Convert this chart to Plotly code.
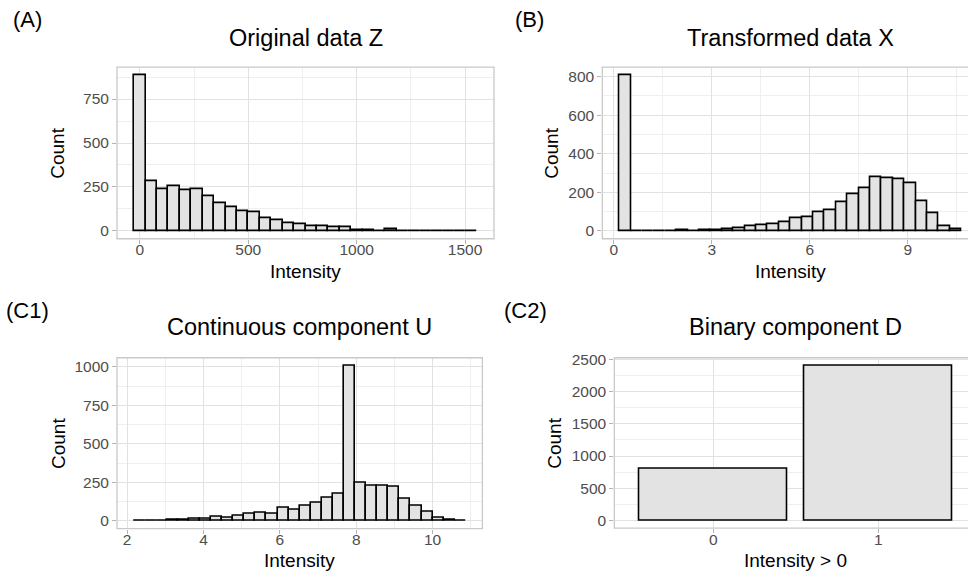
import numpy as np
import plotly.graph_objects as go

# ---- data -------------------------------------------------------------
# (A) original intensities Z: 30 bins, first bin centred on 0
z_bin_width = 52.7
z_counts = [887, 281, 235, 253, 230, 236, 199, 160, 138, 111,
            109, 75, 61, 47, 39, 30, 28, 19, 19, 2,
            6, 1, 8, 1, 1, 0, 1, 0, 0, 1]

# (B) transformed intensities X
x_bin_first = 0.349
x_bin_width = 0.349
x_counts = [808, 0, 0, 0, 0, 2, 0, 2, 4, 10,
            15, 24, 28, 37, 46, 64, 73, 95, 108, 147,
            188, 224, 278, 275, 266, 247, 153, 93, 25, 10]

# (C1) continuous component U
u_bin_first = 2.315
u_bin_width = 0.29
u_counts = [1, 1, 2, 6, 10, 13, 15, 25, 21, 32,
            46, 55, 46, 87, 74, 95, 120, 148, 175, 1008,
            247, 226, 230, 222, 146, 101, 61, 21, 10, 4]

# (C2) binary component D
d_levels = [0, 1]
d_labels = ["0", "1"]
d_counts = [800, 2405]

# tick values
z_ticks = [0, 500, 1000, 1500]
x_ticks = [0, 3, 6, 9]
u_ticks = [2, 4, 6, 8, 10]
yA_ticks = [0, 250, 500, 750]
yB_ticks = [0, 200, 400, 600, 800]
yC1_ticks = [0, 250, 500, 750, 1000]
yC2_ticks = [0, 500, 1000, 1500, 2000, 2500]

W, H = 968, 577
FONT = "Liberation Sans, Arial, sans-serif"
FILL = "#E3E3E3"
GRID = "#E2E2E2"
GRID_MINOR = "#EFEFEF"
BORDER = "#C9C9C9"
TICKTXT = "#4D4D4D"


def centers(first, width, n):
    return first + width * np.arange(n)


zc = centers(0.0, z_bin_width, len(z_counts))
xc = centers(x_bin_first, x_bin_width, len(x_counts))
uc = centers(u_bin_first, u_bin_width, len(u_counts))


def padded(lo, hi, frac=0.05):
    span = hi - lo
    return [lo - frac * span, hi + frac * span]


# panel boxes in pixels: left, right, top, bottom
boxA = (117.0, 494.0, 61.0, 235.0)
boxB = (602.3, 978.6, 61.0, 235.0)
boxC1 = (117.0, 482.4, 355.7, 529.0)
boxC2 = (614.3, 977.3, 355.7, 528.5)

fig = go.Figure()

bar_line = dict(color="black", width=1.6)
fig.add_trace(go.Bar(x=zc, y=z_counts, width=z_bin_width, marker=dict(color=FILL, line=bar_line),
                     xaxis="x", yaxis="y"))
fig.add_trace(go.Bar(x=xc, y=x_counts, width=x_bin_width, marker=dict(color=FILL, line=bar_line),
                     xaxis="x2", yaxis="y2"))
fig.add_trace(go.Bar(x=uc, y=u_counts, width=u_bin_width, marker=dict(color=FILL, line=bar_line),
                     xaxis="x3", yaxis="y3"))
fig.add_trace(go.Bar(x=d_levels, y=d_counts, width=0.9, marker=dict(color=FILL, line=bar_line),
                     xaxis="x4", yaxis="y4"))

TICKFONT = dict(family=FONT, size=15.5, color=TICKTXT)


def xaxis_for(box, rng, ticks, ticktext=None, minor=True):
    l, r, t, b = box
    full = rng[1] - rng[0]
    right_px = min(r, W)
    shown = [rng[0], rng[0] + full * (right_px - l) / (r - l)]
    ax = dict(domain=[l / W, right_px / W], range=shown, tickvals=ticks,
              ticktext=ticktext, showgrid=True, gridcolor=GRID, gridwidth=1,
              zeroline=False, showline=False, ticks="outside", ticklen=4,
              tickcolor="#B3B3B3", tickwidth=1, ticklabelstandoff=-7,
              tickfont=TICKFONT, fixedrange=True)
    if minor:
        step = ticks[1] - ticks[0]
        ax["minor"] = dict(dtick=step / 2, tick0=ticks[0] - step / 2, showgrid=True,
                           gridcolor=GRID_MINOR, gridwidth=1, ticks="")
    return ax


def yaxis_for(box, rng, ticks):
    l, r, t, b = box
    step = ticks[1] - ticks[0]
    return dict(domain=[1 - b / H, 1 - t / H], range=rng, tickvals=ticks,
                showgrid=True, gridcolor=GRID, gridwidth=1, zeroline=False,
                showline=False, ticks="outside", ticklen=4, tickcolor="#B3B3B3",
                tickwidth=1, tickfont=TICKFONT,
                minor=dict(dtick=step / 2, tick0=ticks[0] - step / 2, showgrid=True,
                           gridcolor=GRID_MINOR, gridwidth=1, ticks=""),
                fixedrange=True)


rngA = padded(zc[0] - z_bin_width / 2, zc[-1] + z_bin_width / 2)
rngB = padded(xc[0] - x_bin_width / 2, xc[-1] + x_bin_width / 2)
rngC1 = padded(uc[0] - u_bin_width / 2, uc[-1] + u_bin_width / 2)
rngC2 = [d_levels[0] - 0.6, d_levels[-1] + 0.6]

fig.update_layout(
    xaxis=dict(xaxis_for(boxA, rngA, z_ticks), anchor="y"),
    yaxis=dict(yaxis_for(boxA, padded(0, max(z_counts)), yA_ticks), anchor="x"),
    xaxis2=dict(xaxis_for(boxB, rngB, x_ticks), anchor="y2"),
    yaxis2=dict(yaxis_for(boxB, padded(0, max(x_counts)), yB_ticks), anchor="x2"),
    xaxis3=dict(xaxis_for(boxC1, rngC1, u_ticks), anchor="y3"),
    yaxis3=dict(yaxis_for(boxC1, padded(0, max(u_counts)), yC1_ticks), anchor="x3"),
    xaxis4=dict(xaxis_for(boxC2, rngC2, d_levels, d_labels, minor=False), anchor="y4"),
    yaxis4=dict(yaxis_for(boxC2, padded(0, max(d_counts)), yC2_ticks), anchor="x4"),
)

# panel borders
shapes = []
for (l, r, t, b) in (boxA, boxB, boxC1, boxC2):
    shapes.append(dict(type="rect", xref="paper", yref="paper",
                       x0=l / W, x1=r / W, y0=1 - b / H, y1=1 - t / H,
                       line=dict(color=BORDER, width=1.3), fillcolor="rgba(0,0,0,0)",
                       layer="above"))
fig.update_layout(shapes=shapes)

# titles, axis titles and panel tags
ann = []


def text(x, y, s, size, color="black", angle=0):
    ann.append(dict(x=x / W, y=1 - y / H, xref="paper", yref="paper", text=s,
                    showarrow=False, xanchor="center", yanchor="middle", textangle=angle,
                    font=dict(family=FONT, size=size, color=color)))


TITLE, AXT, TAG = 23.5, 19, 22

text((boxA[0] + boxA[1]) / 2, 31, "Original data Z", TITLE)
text((boxB[0] + boxB[1]) / 2, 31, "Transformed data X", TITLE)
text((boxC1[0] + boxC1[1]) / 2, 325, "Continuous component U", TITLE)
text((boxC2[0] + boxC2[1]) / 2, 325, "Binary component D", TITLE)

text((boxA[0] + boxA[1]) / 2, 268, "Intensity", AXT)
text((boxB[0] + boxB[1]) / 2, 268, "Intensity", AXT)
text((boxC1[0] + boxC1[1]) / 2, 561, "Intensity", AXT)
text((boxC2[0] + boxC2[1]) / 2, 561, "Intensity &gt; 0", AXT)

text(57.8, (boxA[2] + boxA[3]) / 2, "Count", AXT, angle=-90)
text(551.8, (boxB[2] + boxB[3]) / 2, "Count", AXT, angle=-90)
text(57.8, (boxC1[2] + boxC1[3]) / 2, "Count", AXT, angle=-90)
text(554.8, (boxC2[2] + boxC2[3]) / 2, "Count", AXT, angle=-90)

text(27.7, 13, "(A)", TAG)
text(529, 13, "(B)", TAG)
text(27.5, 308, "(C1)", TAG)
text(525, 308, "(C2)", TAG)

fig.update_layout(
    annotations=ann,
    width=W, height=H,
    margin=dict(l=0, r=0, t=0, b=0),
    paper_bgcolor="white", plot_bgcolor="white",
    showlegend=False, bargap=0,
    font=dict(family=FONT),
)

fig.write_html("out.html", include_plotlyjs=True, config=dict(displayModeBar=False))
